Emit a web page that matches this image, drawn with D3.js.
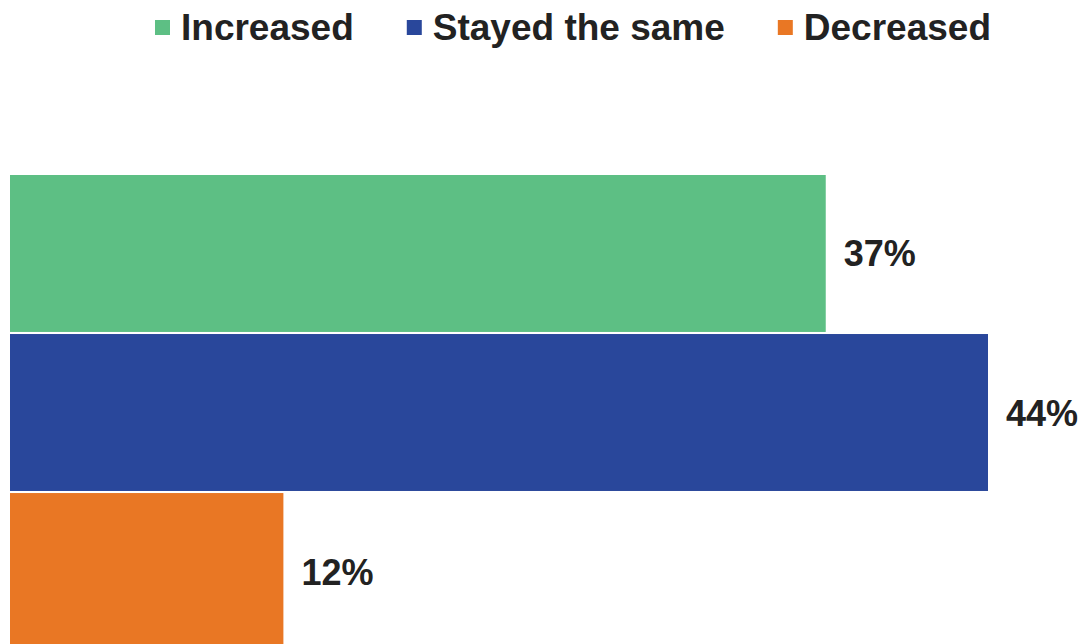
<!DOCTYPE html>
<html>
<head>
<meta charset="utf-8">
<script src="https://cdn.jsdelivr.net/npm/d3@7"></script>
<style>
  html, body { margin: 0; padding: 0; background: #fff; }
  svg { display: block; font-family: "Liberation Sans", Arial, sans-serif; }
</style>
</head>
<body>
<svg id="chart" width="1083" height="644"></svg>
<script>
// chart data (bar lengths, labels shown rounded)
const categories = ['Increased', 'Stayed the same', 'Decreased'];
const values = [36.7, 44.0, 12.3];
const colors = ['#5dbf84', '#29479b', '#e97724'];

const svg = d3.select('#chart');
const fmt = d3.format('.0f');

const x = d3.scaleLinear().domain([0, 44]).range([10, 988]);
const y = d3.scaleBand().domain(categories).range([175, 650]).paddingInner(0.013);
const color = d3.scaleOrdinal().domain(categories).range(colors);

const rows = categories.map((c, i) => ({ cat: c, value: values[i] }));

// bars
svg.selectAll('rect.bar')
  .data(rows)
  .enter().append('rect')
    .attr('class', 'bar')
    .attr('x', x(0))
    .attr('y', d => y(d.cat))
    .attr('width', d => x(d.value) - x(0))
    .attr('height', y.bandwidth())
    .attr('fill', d => color(d.cat));

// value labels
svg.selectAll('text.value')
  .data(rows)
  .enter().append('text')
    .attr('class', 'value')
    .attr('x', d => x(d.value) + 18)
    .attr('y', d => y(d.cat) + y.bandwidth() / 2 + 13)
    .attr('font-size', 36)
    .attr('font-weight', 'bold')
    .attr('fill', '#222')
    .text(d => fmt(d.value) + '%');

// legend
const legend = svg.append('g').attr('class', 'legend');
let lx = 155;
categories.forEach(c => {
  const g = legend.append('g').attr('transform', `translate(${lx},0)`);
  g.append('rect')
    .attr('x', 0).attr('y', 20)
    .attr('width', 15).attr('height', 15)
    .attr('fill', color(c));
  const t = g.append('text')
    .attr('x', 26).attr('y', 40)
    .attr('font-size', 37)
    .attr('font-weight', 'bold')
    .attr('fill', '#222')
    .text(c);
  lx += 26 + t.node().getComputedTextLength() + 53;
});
</script>
</body>
</html>
